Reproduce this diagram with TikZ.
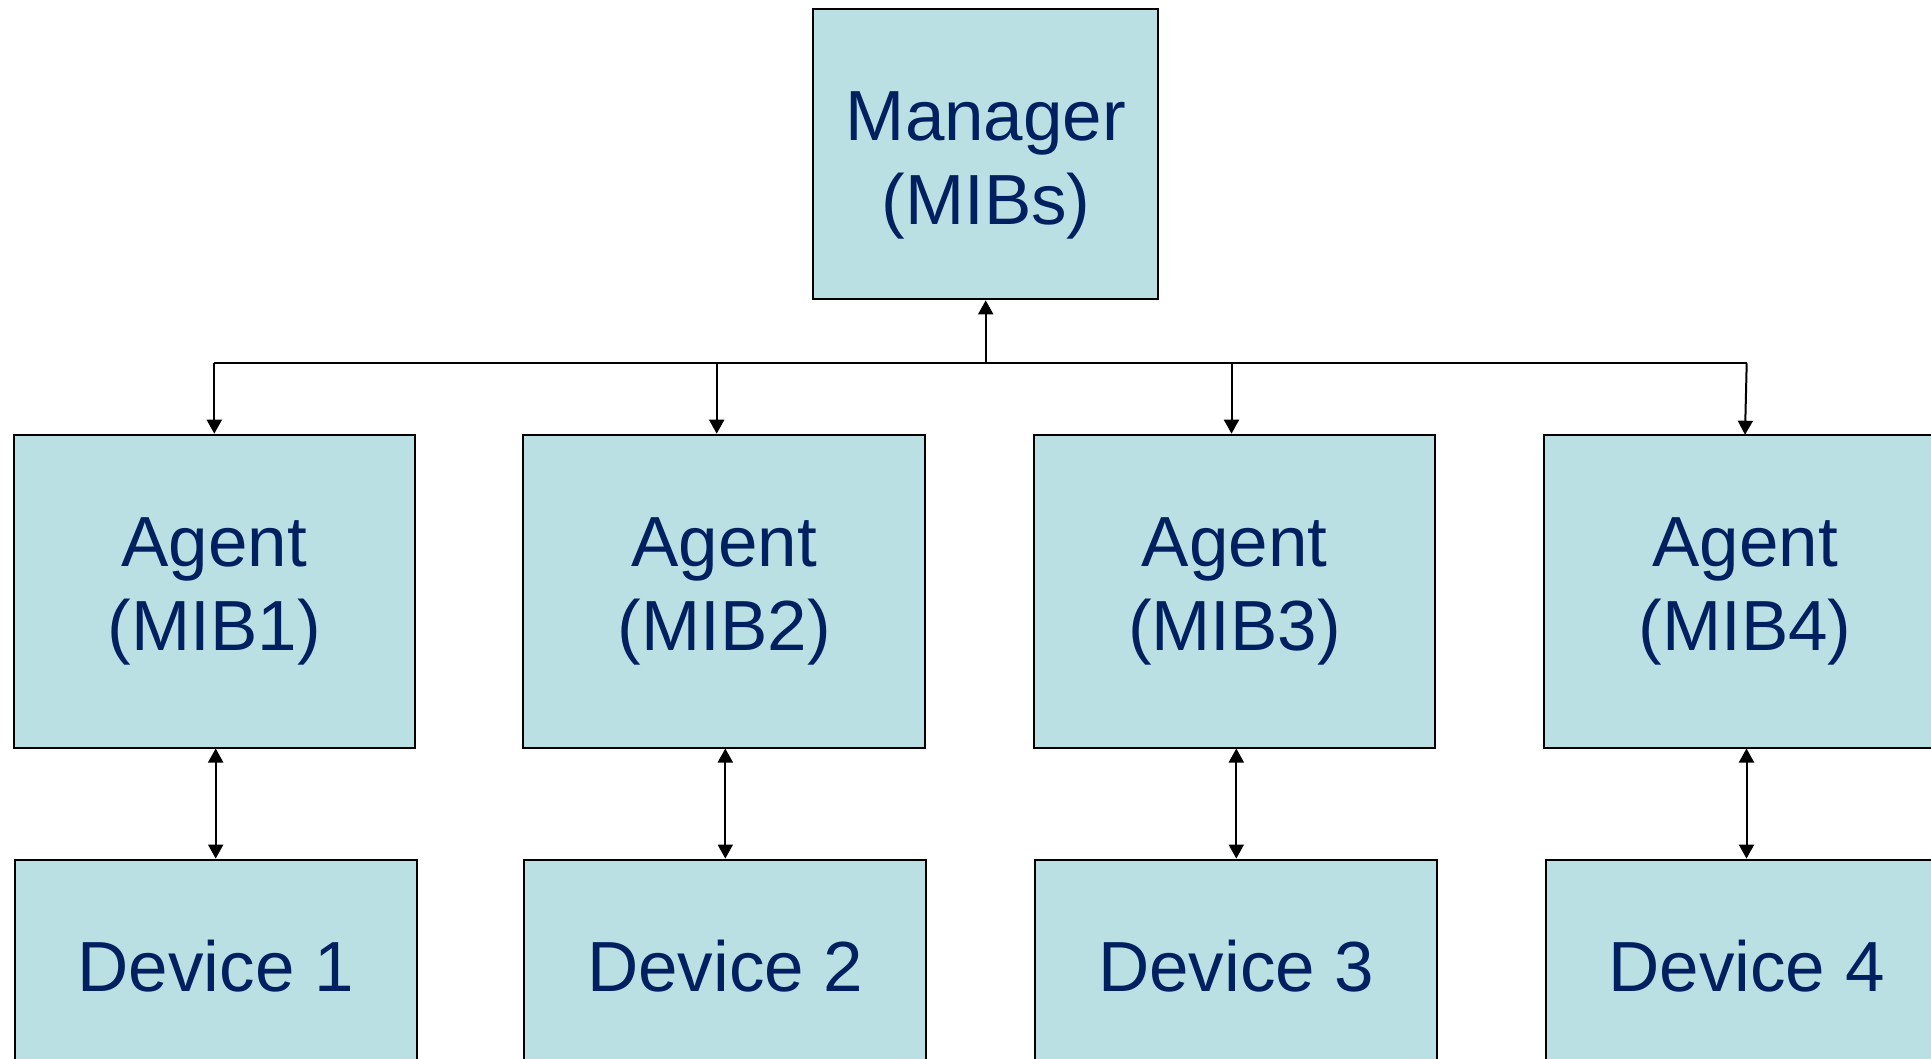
\documentclass[tikz,border=0pt]{standalone}
\usepackage{fontspec}
\setmainfont{Liberation Sans}
\usetikzlibrary{arrows.meta}
\definecolor{boxfill}{HTML}{BBE0E3}
\definecolor{boxtext}{HTML}{002060}
\begin{document}
\begin{tikzpicture}[x=1pt,y=-1pt,
  box/.style={draw=black, line width=2pt, fill=boxfill, inner sep=0pt,
    text=boxtext, align=center, font=\fontsize{71}{84}\selectfont},
  agentbox/.style={box, minimum width=401.5pt, minimum height=312.8pt},
  devbox/.style={box, minimum width=402pt, minimum height=214pt},
  txt/.style={text=boxtext, align=center, inner sep=0pt, font=\fontsize{71}{84}\selectfont},
  conn/.style={line width=2pt, -{Triangle[width=15pt,length=14pt]}},
  bconn/.style={line width=2pt, {Triangle[width=15pt,length=14pt]}-{Triangle[width=15pt,length=14pt]}}
]
\path[use as bounding box, clip] (0,0) rectangle (1931,1059);
\fill[white] (0,0) rectangle (1931,1059);
% Manager
\node[box, minimum width=344.8pt, minimum height=290.7pt] (mgr) at (985.2,154) {};
\node[txt] (mgrt) at (986,165.1) {Manager\\(MIBs)};
% Agents
\node[agentbox] (a1) at (214.3,591.1) {Agent\\(MIB1)};
\node[agentbox] (a2) at (724.2,591.1) {Agent\\(MIB2)};
\node[agentbox] (a3) at (1234.5,591.1) {Agent\\(MIB3)};
\node[agentbox] (a4) at (1745,591.1) {Agent\\(MIB4)};
% Devices
\node[devbox] (d1) at (215.7,966.6) {Device 1};
\node[devbox] (d2) at (725.3,966.6) {Device 2};
\node[devbox] (d3) at (1236.3,966.6) {Device 3};
\node[devbox] (d4) at (1746.5,966.6) {Device 4};
% Bus
\coordinate (b0) at (985.7,363.3);
\coordinate (b1) at (214.3,363.3);
\coordinate (b2) at (716.7,363.3);
\coordinate (b3) at (1231.5,363.3);
\coordinate (b4) at (1746.7,363.3);
\draw[line width=2pt, line join=miter] (b1) -- (b4);
\draw[conn] (b0) -- (b0 |- mgr.south);
\draw[conn] (b1) -- (b1 |- a1.north);
\draw[conn] (b2) -- (b2 |- a2.north);
\draw[conn] (b3) -- (b3 |- a3.north);
\draw[conn] (b4) -- (1745,434.7);
% Agent-device links
\draw[bconn] (d1.north |- a1.south) -- (d1.north);
\draw[bconn] (d2.north |- a2.south) -- (d2.north);
\draw[bconn] (d3.north |- a3.south) -- (d3.north);
\draw[bconn] (d4.north |- a4.south) -- (d4.north);
\end{tikzpicture}
\end{document}
